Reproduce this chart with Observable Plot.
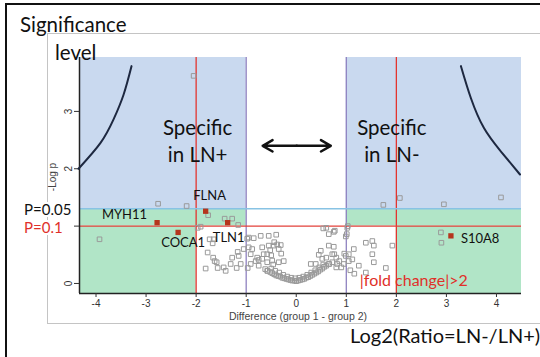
<!DOCTYPE html>
<html><head><meta charset="utf-8">
<script src="https://cdn.jsdelivr.net/npm/d3@7"></script>
<script src="https://cdn.jsdelivr.net/npm/@observablehq/plot@0.6"></script>
<style>
body{margin:0;background:#fff;}
#wrap{position:relative;width:540px;height:357px;overflow:hidden;font-family:Lato,"Open Sans",sans-serif;color:#111;}
.abs{position:absolute;white-space:nowrap;line-height:1;}
#outer{left:5px;top:3px;width:600px;height:400px;border-left:2px solid #111;border-top:2px solid #111;}
#inner{left:47px;top:33px;width:600px;height:289px;border:1px solid #c4c4c4;}
#chart{left:0;top:0;}
</style></head><body>
<div id="wrap">
  <div class="abs" id="outer"></div>
  <div class="abs" id="inner"></div>
  <div class="abs" id="chart"></div>
  <div class="abs" style="left:20px;top:14px;font-size:20.5px;">Significance</div>
  <div class="abs" style="left:55px;top:42px;font-size:20.5px;">level</div>
  <div class="abs" style="left:24px;top:202px;font-size:15px;background:#fff;padding-right:2px;">P=0.05</div>
  <div class="abs" style="left:24px;top:220px;font-size:15px;background:#fff;color:#e0302a;padding-right:2px;">P=0.1</div>
  <div class="abs" style="left:32px;top:172px;width:42px;text-align:center;font-family:'Liberation Sans',Arial,sans-serif;font-size:10px;color:#444;transform:rotate(-90deg);">-Log p</div>
  <div class="abs" style="left:200px;top:311px;width:196px;text-align:center;font-family:'Liberation Sans',Arial,sans-serif;font-size:10.5px;color:#444;">Difference (group 1 - group 2)</div>
  <div class="abs" style="left:350px;top:325px;font-size:20px;">Log2(Ratio=LN-/LN+)</div>
</div>
<script>
// ---- data ----
const grayDiff = [
 -1.97,-1.91,-1.73,-1.65,-1.67,-1.77,-1.63,-1.59,-1.81,-1.57,-1.41,-1.66,-1.45,-1.28,-1.31,-1.15,-1.11,-1.05,-1.17,-1.19,
 -0.98,-0.95,-0.85,-0.95,-0.71,-0.97,-0.91,-0.88,-0.81,-0.75,-0.65,-0.68,-0.58,-0.78,-0.68,-0.58,-0.91,-0.75,-0.58,
 -0.55,-0.55,-0.52,-0.50,-0.45,-0.38,-0.31,-0.35,-0.48,-0.46,-0.35,-0.25,-0.40,-0.44,-0.30,
 -0.62,-0.57,-0.52,-0.48,-0.44,-0.40,-0.36,-0.32,-0.28,-0.24,-0.20,-0.16,-0.12,-0.08,-0.04,0.00,0.04,0.08,0.12,0.16,0.20,0.24,0.28,0.32,0.36,0.40,0.44,0.48,0.52,0.56,0.60,0.66,0.72,
 -0.50,-0.42,-0.34,-0.26,-0.18,-0.10,-0.02,0.06,0.14,0.22,0.30,0.38,0.46,0.54,
 0.54,0.60,0.65,0.75,0.77,0.65,0.72,0.76,0.49,0.52,0.39,0.29,0.65,0.82,0.75,0.80,0.86,0.90,0.80,0.96,0.45,0.60,
 1.02,1.01,0.99,1.15,1.39,1.52,1.55,1.52,1.55,1.25,1.39,1.12,1.05,0.99,0.95,1.05,1.79,1.08,1.92,1.16,
 -3.93,-2.05,-2.76,-2.19,-1.76,-1.43,-1.28,-1.16,1.74,2.07,2.95,4.09,2.89,2.90,1.03
];
const grayLogP = [
 0.97,0.99,0.77,0.77,0.70,0.54,0.39,0.37,0.26,0.27,0.22,0.45,0.28,0.45,0.34,0.48,0.34,0.60,0.55,0.27,
 0.78,0.63,0.79,0.80,0.83,0.27,0.51,0.60,0.39,0.41,0.51,0.63,0.37,0.45,0.43,0.51,0.34,0.31,0.22,
 0.83,0.66,0.58,0.49,0.66,0.68,0.67,0.60,0.40,0.33,0.37,0.39,0.85,0.72,0.52,
 0.25,0.22,0.20,0.18,0.16,0.14,0.13,0.12,0.10,0.09,0.08,0.07,0.06,0.05,0.05,0.04,0.05,0.06,0.07,0.08,0.10,0.11,0.13,0.15,0.17,0.19,0.21,0.24,0.26,0.29,0.31,0.34,0.37,
 0.26,0.22,0.19,0.15,0.12,0.10,0.09,0.10,0.12,0.15,0.19,0.23,0.28,0.33,
 0.96,0.97,0.86,0.90,0.92,0.66,0.51,0.51,0.57,0.43,0.34,0.34,0.34,0.34,0.64,0.45,0.39,0.28,0.28,0.52,0.50,0.45,
 0.97,0.86,0.82,0.60,0.71,0.74,0.66,0.51,0.37,0.31,0.19,0.42,0.51,0.48,0.34,0.39,0.27,0.23,0.66,0.17,
 0.77,3.62,1.39,1.35,1.19,1.13,1.13,1.02,1.37,1.49,1.38,1.50,0.89,0.71,1.00
];
const genes    = ["MYH11","FLNA","COCA1","TLN1","S10A8"];
const geneDiff = [-2.78,-1.81,-2.36,-1.37,3.09];
const geneLogP = [1.06,1.26,0.89,1.06,0.83];
const curveLeftX  = [-4.35,-3.91,-3.65,-3.45,-3.29];
const curveLeftY  = [2.00,2.45,2.86,3.29,3.79];
const curveRightX = [3.29,3.49,3.75,4.09,4.47];
const curveRightY = [3.79,3.23,2.71,2.30,1.90];
const foldLimits = [-2, 2];
const halfLimits = [-1, 1];
const pSignif = 0.05, pTrend = 0.1;
const xTicks = [-4,-3,-2,-1,0,1,2,3,4];
const yTicks = [0,1,2,3];
const regionLabels = ["Specific\nin LN+","Specific\nin LN-"];
const regionLabelX = [-1.97, 1.91];
const regionLabelY = [2.50, 2.50];
const foldLabel = "|fold change|>2";

// ---- build ----
const xDom = [-4.33, 4.5], yDom = [-0.175, 3.94];
const ySig = -Math.log10(pSignif), yTr = -Math.log10(pTrend);
const blue = [
  {x1:xDom[0], x2:halfLimits[0], y1:ySig, y2:yDom[1]},
  {x1:halfLimits[1], x2:xDom[1], y1:ySig, y2:yDom[1]}
];
const green = [
  {x1:xDom[0], x2:halfLimits[0], y1:yTr, y2:ySig},
  {x1:xDom[0], x2:foldLimits[0], y1:yDom[0], y2:yTr},
  {x1:halfLimits[1], x2:xDom[1], y1:yTr, y2:ySig},
  {x1:foldLimits[1], x2:xDom[1], y1:yDom[0], y2:yTr}
];
const gray = grayDiff.map((d,i)=>({x:d, y:grayLogP[i]}));
const geneData = genes.map((g,i)=>({g, x:geneDiff[i], y:geneLogP[i]}));
const labelStyle = {
  MYH11:{anchor:"end", dx:-10, dy:-8},
  FLNA:{anchor:"middle", dx:4, dy:-15},
  COCA1:{anchor:"middle", dx:5, dy:10},
  TLN1:{anchor:"middle", dx:1, dy:15},
  S10A8:{anchor:"start", dx:10, dy:3}
};
const curveL = curveLeftX.map((d,i)=>({x:d, y:curveLeftY[i]}));
const curveR = curveRightX.map((d,i)=>({x:d, y:curveRightY[i]}));
const regionData = regionLabels.map((t,i)=>({t, x:regionLabelX[i], y:regionLabelY[i]}));
const arrowY = 2.40;

const geneMarks = genes.map(g => Plot.text(geneData.filter(d=>d.g===g), {
  x:"x", y:"y", text:"g", textAnchor: labelStyle[g].anchor, dx: labelStyle[g].dx, dy: labelStyle[g].dy,
  fontSize: 13, fontFamily:"Lato, sans-serif", fill:"#111"
}));

const chart = Plot.plot({
  width: 540, height: 357,
  marginLeft: 79, marginRight: 19, marginTop: 57, marginBottom: 64,
  x: {domain: xDom},
  y: {domain: yDom},
  style: {background:"transparent", overflow:"visible", fontFamily:"'Liberation Sans', Arial, sans-serif", fontSize:"10px", color:"#333"},
  marks: [
    Plot.rect(blue, {x1:"x1", x2:"x2", y1:"y1", y2:"y2", fill:"#c9d9ef"}),
    Plot.rect(green, {x1:"x1", x2:"x2", y1:"y1", y2:"y2", fill:"#b1e5c7"}),
    Plot.ruleX(halfLimits, {stroke:"#8f82c0", strokeWidth:1.3}),
    Plot.ruleX(foldLimits, {stroke:"#e3342f", strokeWidth:1.3}),
    Plot.ruleY([ySig], {stroke:"#88c3e4", strokeWidth:1.5}),
    Plot.ruleY([yTr], {stroke:"#e3403a", strokeWidth:1.3}),
    Plot.ruleX([xDom[0]], {stroke:"#222", strokeWidth:1.5}),
    Plot.ruleY([yDom[0]], {stroke:"#222", strokeWidth:1.5}),
    Plot.axisX({ticks: xTicks, tickSize:4, tickPadding:2, label:null, tickFormat:d=>String(d), fontSize:10}),
    Plot.axisY({ticks: yTicks, tickSize:5, tickPadding:3, tickRotate:-90, label:null, tickFormat:d=> d===1 ? "" : String(d), fontSize:10}),
    Plot.dot(gray, {x:"x", y:"y", symbol:"square", r:2.6, stroke:"#9a9a9a", strokeWidth:1, fill:"none"}),
    Plot.dot(geneData, {x:"x", y:"y", symbol:"square", r:3, fill:"#b5351d", stroke:"none"}),
    Plot.line(curveL, {x:"x", y:"y", curve:"natural", stroke:"#1d2840", strokeWidth:2}),
    Plot.line(curveR, {x:"x", y:"y", curve:"natural", stroke:"#1d2840", strokeWidth:2}),
    Plot.arrow([{a:0.01, b:-0.67},{a:0.01, b:0.69}], {x1:"a", x2:"b", y1:()=>arrowY, y2:()=>arrowY, stroke:"#111", strokeWidth:2.5, headLength:9}),
    Plot.text(regionData, {x:"x", y:"y", text:"t", fontSize:20.5, lineHeight:1.32, fontFamily:"Lato, sans-serif", fill:"#111"}),
    ...geneMarks,
    Plot.text([foldLabel], {x:()=>1.27, y:()=>0.05, text:d=>d, textAnchor:"start", fontSize:16, fontFamily:"Lato, sans-serif", fill:"#e0302a"})
  ]
});
document.getElementById("chart").appendChild(chart);
</script>
</body></html>
